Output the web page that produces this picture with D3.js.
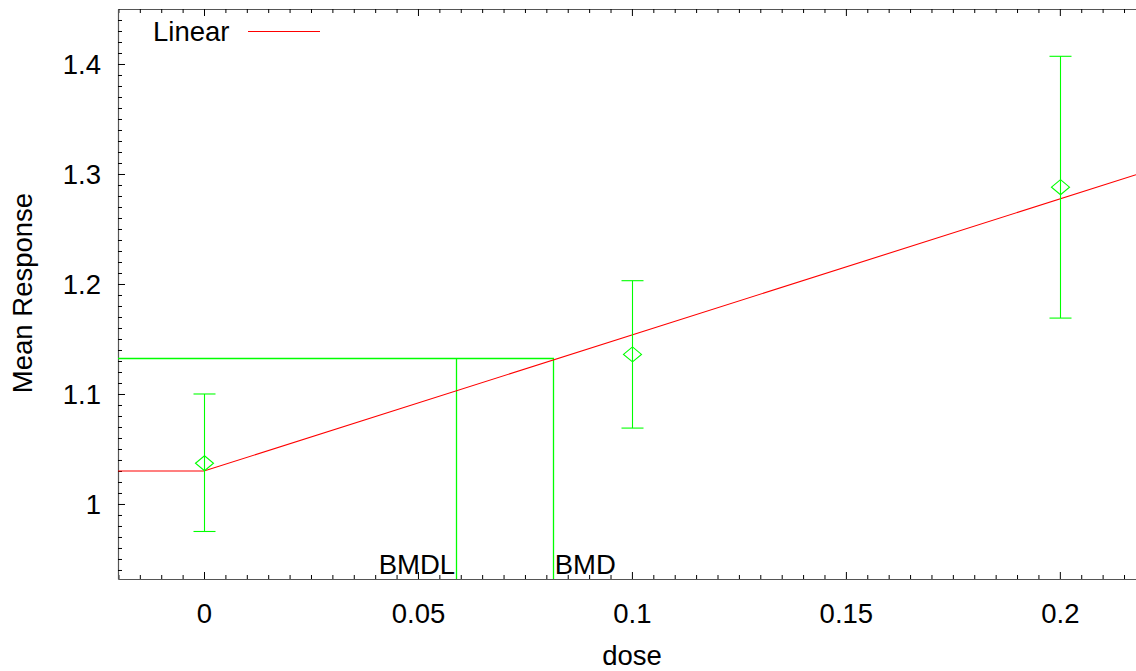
<!DOCTYPE html>
<html>
<head>
<meta charset="utf-8">
<script src="https://cdn.jsdelivr.net/npm/d3@7/dist/d3.min.js"></script>
<style>
  html, body { margin: 0; padding: 0; background: #fff; }
  svg { display: block; font-family: "Liberation Sans", Arial, sans-serif; }
</style>
</head>
<body>
<svg id="chart" width="1136" height="671"></svg>
<script>
// ---- data ----
const doses = [0, 0.1, 0.2];
const means = [1.037, 1.136, 1.288];
const lowerCI = [0.975, 1.069, 1.169];
const upperCI = [1.100, 1.203, 1.407];

const fitDose = [-0.0201, 0, 0.2178];
const fitResp = [1.030, 1.030, 1.2993];

const bmd = 0.0815;
const bmdl = 0.0589;
const bmrResponse = 1.1323;

const xTicks = [0, 0.05, 0.1, 0.15, 0.2];
const yTicks = [1, 1.1, 1.2, 1.3, 1.4];
const xDomain = [-0.0201, 0.2178];
const yDomain = [0.9318, 1.45];

// ---- layout ----
const mLeft = 118, mRight = 1136, mTop = 9, mBottom = 579;
const svg = d3.select("#chart");
const x = d3.scaleLinear().domain(xDomain).range([mLeft, mRight]);
const y = d3.scaleLinear().domain(yDomain).range([mBottom, mTop]);

const green = "#00ff00", red = "#ff0000";
const fontSize = 27.5;

// minor ticks
const xMinor = d3.range(-0.02, 0.2178, 0.005).map(v => +v.toFixed(3)).filter(v => !xTicks.some(t => Math.abs(t - v) < 1e-9));
const yMinor = d3.range(0.94, 1.45, 0.01).map(v => +v.toFixed(2)).filter(v => !yTicks.some(t => Math.abs(t - v) < 1e-9));

function styleAxis(g) {
  g.select(".domain").attr("stroke", "#555").attr("stroke-width", 1.2);
  g.selectAll(".tick line").attr("stroke", "#000");
}

// bottom axis (major)
const gx = svg.append("g").attr("transform", `translate(0,${mBottom})`)
  .call(d3.axisBottom(x).tickValues(xTicks).tickSize(-7).tickSizeOuter(0).tickFormat(d3.format("")));
styleAxis(gx);
gx.selectAll(".tick text").attr("y", 44).attr("dy", 0).attr("font-size", fontSize)
  .attr("font-family", "Liberation Sans, Arial, sans-serif").attr("fill", "#000");
// bottom minor
svg.append("g").attr("transform", `translate(0,${mBottom})`)
  .call(d3.axisBottom(x).tickValues(xMinor).tickSize(-4).tickSizeOuter(0).tickFormat(""))
  .call(g => { g.select(".domain").remove(); g.selectAll(".tick line").attr("stroke", "#000"); });

// top axis
const gt = svg.append("g").attr("transform", `translate(0,${mTop})`)
  .call(d3.axisTop(x).tickValues(xTicks).tickSize(-7).tickSizeOuter(0).tickFormat(""));
styleAxis(gt);
svg.append("g").attr("transform", `translate(0,${mTop})`)
  .call(d3.axisTop(x).tickValues(xMinor).tickSize(-4).tickSizeOuter(0).tickFormat(""))
  .call(g => { g.select(".domain").remove(); g.selectAll(".tick line").attr("stroke", "#000"); });

// left axis
const gy = svg.append("g").attr("transform", `translate(${mLeft},0)`)
  .call(d3.axisLeft(y).tickValues(yTicks).tickSize(-7).tickSizeOuter(0).tickFormat(d3.format("")));
styleAxis(gy);
gy.selectAll(".tick text").attr("x", -17).attr("dy", "0.36em").attr("font-size", fontSize)
  .attr("font-family", "Liberation Sans, Arial, sans-serif").attr("fill", "#000");
svg.append("g").attr("transform", `translate(${mLeft},0)`)
  .call(d3.axisLeft(y).tickValues(yMinor).tickSize(-4).tickSizeOuter(0).tickFormat(""))
  .call(g => { g.select(".domain").remove(); g.selectAll(".tick line").attr("stroke", "#000"); });

// axis titles
svg.append("text").attr("x", 632).attr("y", 665).attr("text-anchor", "middle")
  .attr("font-size", fontSize).text("dose");
svg.append("text").attr("transform", "translate(32,293) rotate(-90)").attr("text-anchor", "middle")
  .attr("font-size", fontSize).text("Mean Response");

// BMD lines
const bmdY = Math.round(y(bmrResponse)) + 0.5;
const bmdG = svg.append("g").attr("stroke", green).attr("stroke-width", 1.3).attr("fill", "none");
bmdG.append("line").attr("x1", x(xDomain[0])).attr("x2", Math.round(x(bmd)) + 1)
  .attr("y1", bmdY).attr("y2", bmdY);
[bmdl, bmd].forEach(v => {
  const vx = Math.round(x(v)) + 0.5;
  bmdG.append("line").attr("x1", vx).attr("x2", vx).attr("y1", bmdY).attr("y2", y(yDomain[0]));
});

svg.append("text").attr("x", x(bmdl) - 1).attr("y", 574).attr("text-anchor", "end")
  .attr("font-size", fontSize).text("BMDL");
svg.append("text").attr("x", x(bmd) + 2).attr("y", 574).attr("text-anchor", "start")
  .attr("font-size", fontSize).text("BMD");

// fitted line
svg.append("path")
  .datum(fitDose.map((d, i) => [d, fitResp[i]]))
  .attr("fill", "none").attr("stroke", red).attr("stroke-width", 1.1)
  .attr("d", d3.line().x(d => x(d[0])).y(d => y(d[1])));

// error bars
const eb = svg.append("g").attr("stroke", green).attr("stroke-width", 1.1).attr("fill", "none");
doses.forEach((d, i) => {
  const cx = Math.round(x(d)) + 0.5;
  eb.append("line").attr("x1", cx).attr("x2", cx).attr("y1", y(lowerCI[i])).attr("y2", y(upperCI[i]));
  eb.append("line").attr("x1", cx - 11).attr("x2", cx + 11).attr("y1", y(lowerCI[i])).attr("y2", y(lowerCI[i]));
  eb.append("line").attr("x1", cx - 11).attr("x2", cx + 11).attr("y1", y(upperCI[i])).attr("y2", y(upperCI[i]));
  const cy = y(means[i]);
  eb.append("path").attr("d", `M${cx - 9},${cy} L${cx},${cy - 7.5} L${cx + 9},${cy} L${cx},${cy + 7.5} Z`)
    .attr("fill", "none");
});

// legend
svg.append("text").attr("x", 153).attr("y", 41).attr("font-size", fontSize).text("Linear");
svg.append("line").attr("x1", 248).attr("x2", 320).attr("y1", 31.5).attr("y2", 31.5)
  .attr("stroke", red).attr("stroke-width", 1);
</script>
</body>
</html>
